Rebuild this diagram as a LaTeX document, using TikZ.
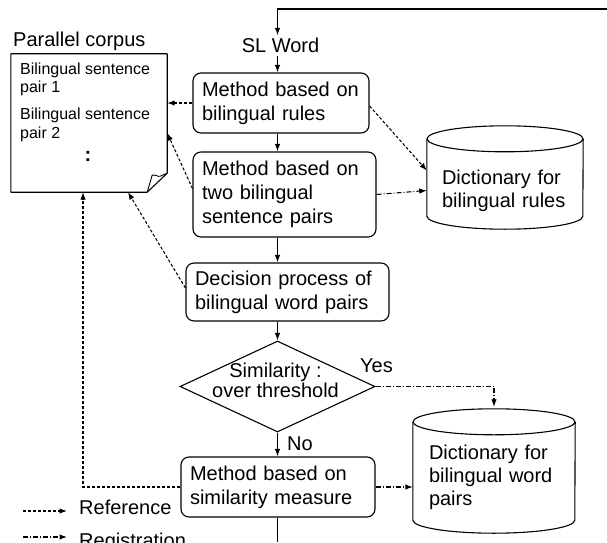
\documentclass[tikz,border=0pt]{standalone}
\usepackage{fontspec}
\setmainfont{Liberation Sans}
\usetikzlibrary{shapes.geometric,arrows.meta,calc}
\begin{document}
\begin{tikzpicture}[x=1pt,y=1pt,
  every node/.style={font=\fontsize{20}{24}\selectfont},
  proc/.style={draw, rounded corners=8pt, line width=1.1pt, align=left,
    inner xsep=9pt, inner ysep=0pt},
  dict/.style={align=left, inner ysep=0pt, font=\fontsize{20}{23}\selectfont},
  small/.style={font=\fontsize{16}{18}\selectfont, inner sep=0pt, anchor=base west},
  lbl/.style={inner sep=0pt, anchor=base west},
  outline/.style={line width=1.1pt, line join=round},
  arr/.style={-{Latex[length=7.5pt,width=5.5pt]}, line width=1.1pt},
  ref/.style={arr, line width=1.05pt, dash pattern=on 3pt off 2pt},
  reg/.style={arr, line width=1.05pt, dash pattern=on 5pt off 2pt on 1pt off 2pt},
]
\useasboundingbox (0,0) rectangle (607,542);

% spine and free ends
\coordinate (spine) at (277.5,0);
\coordinate (topR) at (607,533);
\coordinate (bottom) at (277.5,0);

% parallel corpus
\node[lbl] (pctitle) at (13,495) {Parallel corpus};
\node[draw=none, minimum width=156pt, minimum height=138pt, inner sep=0pt] (corpus) at (89,419) {};
\draw[outline] (corpus.north west) -- (corpus.north east) -- ($(corpus.south east)+(0,19)$)
  -- ($(corpus.south east)+(-20,0)$) -- (corpus.south west) -- cycle;
\draw[outline, line width=0.9pt] ($(corpus.south east)+(-20,0)$) -- ($(corpus.south east)+(-15,17)$)
  .. controls ($(corpus.south east)+(-12,18)$) and ($(corpus.south east)+(-9,15)$) .. ($(corpus.south east)+(-7,16)$)
  -- ($(corpus.south east)+(0,19)$);
\node[small] (c1a) at (20,467) {Bilingual sentence};
\node[small] (c1b) at (20,449) {pair 1};
\node[small] (c2a) at (20,423) {Bilingual sentence};
\node[small] (c2b) at (20,404) {pair 2};
\node[inner sep=0pt, anchor=base, font=\fontsize{20}{24}\bfseries] (cdots) at (88,381) {:};

% main flow
\node[inner sep=3pt, anchor=base] (sl) at (280.5,489) {SL Word};
\node[proc, minimum width=176pt, minimum height=60pt, text width=158pt] (b1) at (281,439)
  {Method based on\\bilingual rules};
\node[proc, minimum width=183pt, minimum height=85pt, text width=165pt] (b2) at (284.5,347.5)
  {Method based on\\two bilingual\\sentence pairs};
\node[proc, minimum width=203pt, minimum height=58pt, text width=185pt] (b3) at (287.5,250)
  {Decision process of\\bilingual word pairs};
\node[draw, diamond, line width=1.1pt, minimum width=195pt, minimum height=91pt, inner sep=0pt,
  label={[align=center, font=\fontsize{20}{18.4}\selectfont, yshift=6.3pt, xshift=-2pt]center:Similarity :\\over threshold}]
  (dec) at (277.5,155.5) {};
\node[proc, minimum width=194pt, minimum height=60pt, text width=176pt] (b4) at (278,55)
  {Method based on\\similarity measure};
\node[lbl] (yes) at (360,170) {Yes};
\node[lbl] (no) at (287,92) {No};

% dictionaries
\node[dict, minimum width=156pt, minimum height=77pt, text width=126pt, inner xsep=15pt] (d1) at (505,351.5)
  {Dictionary for\\bilingual rules};
\draw[outline] ($(d1.north)+(0,13)$) ellipse [x radius=78, y radius=13];
\draw[outline] ($(d1.north west)+(0,13)$) -- ($(d1.south west)+(0,13)$)
  arc[start angle=180, end angle=360, x radius=78, y radius=13] -- ($(d1.north east)+(0,13)$);
\node[dict, minimum width=162pt, minimum height=85pt, text width=130pt, inner xsep=16pt] (d2) at (494,64.5)
  {Dictionary for\\bilingual word\\pairs};
\draw[outline] ($(d2.north)+(0,13)$) ellipse [x radius=81, y radius=13];
\draw[outline] ($(d2.north west)+(0,13)$) -- (d2.south west)
  arc[start angle=180, end angle=360, x radius=81, y radius=13] -- ($(d2.north east)+(0,13)$);

% solid flow
\draw[arr] (topR) -- (spine |- topR) -- (sl.north -| spine);
\draw[arr] (sl.south -| spine) -- (b1.north -| spine);
\draw[arr] (b1.south -| spine) -- (b2.north -| spine);
\draw[arr] (b2.south -| spine) -- (b3.north -| spine);
\draw[arr] (b3.south -| spine) -- (dec.north);
\draw[arr] (dec.south) -- (b4.north -| spine);
\draw[line width=1.1pt] (b4.south -| spine) -- (bottom);

% references
\draw[ref] (b1.west) -- (b1.west -| corpus.east);
\draw[ref] ($(b2.west)+(0,6)$) -- ($(corpus.east)+(0,-10)$);
\draw[ref] ($(b3.west)+(0,4)$) -- ($(corpus.south)+(39,0)$);
\draw[ref] (b4.west) -| ($(corpus.south)+(-6,0)$);
\draw[ref] ($(b1.east)+(0,-3)$) -- ($(d1.west)+(0,20)$);

% registrations
\draw[reg] (b2.east) -- (d1.west);
\draw[reg] (dec.east) -| ($(d2.north)+(0,28)$);
\draw[reg] (b4.east) -- (b4.east -| d2.west);

% legend
\coordinate (l1a) at (23,31);
\coordinate (l1b) at (67,31);
\draw[ref] (l1a) -- (l1b);
\node[lbl] (leg1) at (79,28) {Reference};
\coordinate (l2a) at (23,5);
\coordinate (l2b) at (67,5);
\draw[reg] (l2a) -- (l2b);
\node[lbl] (leg2) at (79,-5) {Registration};
\end{tikzpicture}
\end{document}
